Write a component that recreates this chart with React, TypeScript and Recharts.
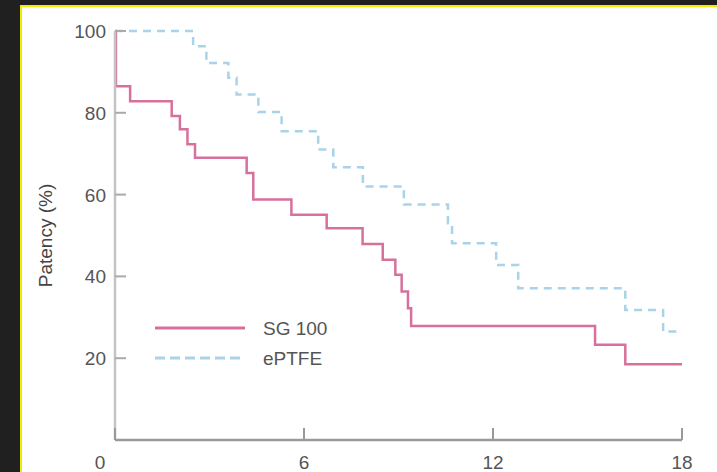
import { Line, LineChart, XAxis, YAxis } from "recharts";

// months since procedure / patency (%)
const sgMonths = [0, 0.03, 0.48, 1.8, 2.06, 2.3, 2.54, 4.18, 4.39, 5.6, 6.72, 7.86, 8.5, 8.9, 9.1, 9.3, 9.4, 15.24, 16.2, 18];
const sgValues = [100, 86.5, 82.8, 79.2, 76, 72.3, 69, 65.3, 58.8, 55.1, 51.8, 47.9, 44.1, 40.4, 36.3, 32.2, 27.9, 23.3, 18.5, 18.5];

const eptfeMonths = [0, 2.48, 2.9, 3.6, 3.86, 4.55, 5.29, 6.45, 6.93, 7.87, 9.17, 10.57, 10.7, 12.1, 12.8, 16.2, 17.4, 17.9];
const eptfeValues = [100, 96.3, 92.2, 88.6, 84.5, 80.2, 75.5, 71, 66.7, 62, 57.6, 53, 48.1, 42.8, 37.1, 31.8, 26.5, 26.5];

const xTicks = [0, 6, 12, 18];
const yTicks = [20, 40, 60, 80, 100];
const seriesNames = ["SG 100", "ePTFE"];

const PINK = "#d7709c";
const BLUE = "#a9d3e8";
const AXIS_TEXT = "#555";
const FONT = "'Liberation Sans', Arial, sans-serif";

const sgData = sgMonths.map((m, i) => ({ month: m, value: sgValues[i] }));
const eptfeData = eptfeMonths.map((m, i) => ({ month: m, value: eptfeValues[i] }));

function YTick(props: any) {
  const { x, y, payload } = props;
  const axisX = x + 8;
  return (
    <g>
      <line x1={axisX} x2={axisX + 11} y1={y} y2={y} stroke="#aaa" strokeWidth={2} />
      <text x={x - 1} y={y} dy={7} textAnchor="end" fill={AXIS_TEXT} fontSize={19} fontFamily={FONT}>
        {payload.value}
      </text>
    </g>
  );
}

function XTick(props: any) {
  const { x, y, payload } = props;
  const axisY = y - 8;
  const shift = payload.value === 0 ? -15 : 0;
  return (
    <g>
      <line x1={x} x2={x} y1={axisY} y2={axisY - 12} stroke="#999" strokeWidth={2} />
      <text x={x + shift} y={axisY + 22} dy={7} textAnchor="middle" fill={AXIS_TEXT} fontSize={19} fontFamily={FONT}>
        {payload.value}
      </text>
    </g>
  );
}

function LegendBox() {
  const colors = [PINK, BLUE];
  return (
    <svg width={280} height={60} style={{ position: "absolute", left: 155, top: 315 }}>
      {seriesNames.map((name, i) => (
        <g key={name} transform={`translate(0, ${i * 30 + 13})`}>
          <line
            x1={0}
            x2={90}
            y1={0}
            y2={0}
            stroke={colors[i]}
            strokeWidth={3}
            strokeDasharray={i === 1 ? "10 5" : undefined}
          />
          <text x={108} y={0} dy={7} fill={AXIS_TEXT} fontSize={19} fontFamily={FONT}>
            {name}
          </text>
        </g>
      ))}
    </svg>
  );
}

export default function App() {
  return (
    <div style={{ position: "relative", width: 717, height: 472, background: "#202020", overflow: "hidden" }}>
      <style>{`body{margin:0;background:#202020}`}</style>
      <div
        style={{
          position: "absolute",
          left: 20,
          top: 5,
          right: 0,
          bottom: 0,
          background: "#fff",
          borderTop: "2px solid #f0ec00",
          borderLeft: "2px solid #f0ec00",
        }}
      />
      <div style={{ position: "absolute", left: 0, top: 0 }}>
        <LineChart width={717} height={472} margin={{ top: 31, right: 35, bottom: 2, left: 55 }}>
          <XAxis
            type="number"
            dataKey="month"
            domain={[0, 18]}
            ticks={xTicks}
            allowDuplicatedCategory={false}
            height={30}
            tickSize={0}
            tickMargin={8}
            tick={<XTick />}
            tickLine={false}
            axisLine={{ stroke: "#999", strokeWidth: 2.5 }}
          />
          <YAxis
            type="number"
            domain={[0, 100]}
            ticks={yTicks}
            width={60}
            tickSize={0}
            tickMargin={8}
            tick={<YTick />}
            tickLine={false}
            axisLine={{ stroke: "#c4c4c4", strokeWidth: 2.5 }}
            label={{
              value: "Patency (%)",
              angle: -90,
              position: "left",
              offset: 10,
              fill: "#444",
              fontSize: 19,
              fontFamily: FONT,
              style: { textAnchor: "middle" },
            }}
          />
          <Line
            name={seriesNames[0]}
            data={sgData}
            dataKey="value"
            type="stepAfter"
            stroke={PINK}
            strokeWidth={2.5}
            dot={false}
            isAnimationActive={false}
          />
          <Line
            name={seriesNames[1]}
            data={eptfeData}
            dataKey="value"
            type="stepAfter"
            stroke={BLUE}
            strokeWidth={2.5}
            strokeDasharray="8 6"
            dot={false}
            isAnimationActive={false}
          />
        </LineChart>
      </div>
      <LegendBox />
    </div>
  );
}
